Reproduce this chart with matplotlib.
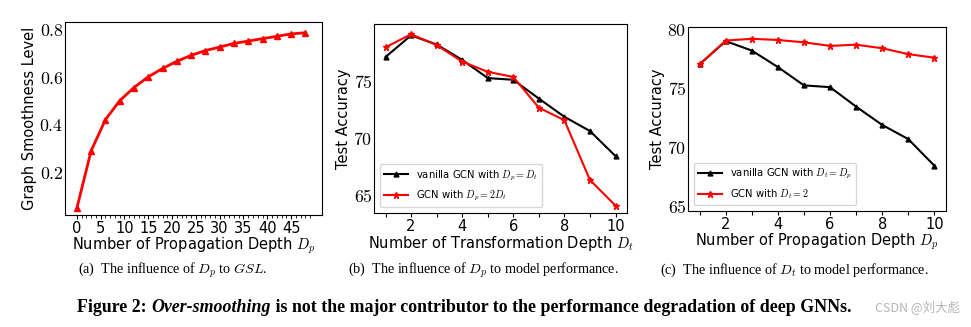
import numpy as np
import matplotlib
matplotlib.use("Agg")
from matplotlib import pyplot as plt

plt.rcParams['mathtext.fontset'] = 'cm'
plt.rcParams['font.family'] = ['DejaVu Sans']

# (a) graph smoothness level vs propagation depth
depth_a = [0, 3, 6, 9, 12, 15, 18, 21, 24, 27, 30, 33, 36, 39, 42, 45, 48]
gsl_a = [0.05, 0.29, 0.42, 0.50, 0.555, 0.60, 0.635, 0.665, 0.69, 0.71,
         0.725, 0.74, 0.75, 0.76, 0.77, 0.78, 0.785]

# (b) accuracy vs transformation depth
depth_b = [1, 2, 3, 4, 5, 6, 7, 8, 9, 10]
vanilla_b = [77.1, 79.0, 78.2, 76.85, 75.25, 75.1, 73.45, 71.85, 70.6, 68.4]
gcn2x_b = [77.95, 79.1, 78.15, 76.7, 75.8, 75.35, 72.65, 71.55, 66.3, 64.05]

# (c) accuracy vs propagation depth
depth_c = [1, 2, 3, 4, 5, 6, 7, 8, 9, 10]
vanilla_c = [77.0, 78.95, 78.15, 76.75, 75.2, 75.05, 73.4, 71.85, 70.65, 68.4]
gcn_dt2_c = [77.0, 79.0, 79.15, 79.05, 78.85, 78.55, 78.65, 78.35, 77.85, 77.55]

yticks_a = [0.2, 0.4, 0.6, 0.8]
xticks_a = [0, 5, 10, 15, 20, 25, 30, 35, 40, 45]
yticks_b = [65, 70, 75]
yticks_c = [65, 70, 75, 80]

captions = [r"(a)  The influence of $D_p$ to $GSL$.",
            r"(b)  The influence of $D_p$ to model performance.",
            r"(c)  The influence of $D_t$ to model performance."]

fig = plt.figure(figsize=(9.71, 3.27), dpi=100)
W, H = 971.0, 327.0


def box(l, r, t, b):
    return [l / W, 1 - b / H, (r - l) / W, (b - t) / H]


def math_labels(vals, fmt):
    return ['$' + fmt.format(v) + '$' for v in vals]


lab_fs = 10.5
tick_fs = 10.5
ytick_fs = 12.8

# ---- (a)
ax = fig.add_axes(box(65, 322, 22, 215))
ax.plot(depth_a, gsl_a, color='red', lw=2, marker='^', ms=5)
ax.set_xlim(-2.5, 51.5)
ax.set_ylim(0.02, 0.83)
ax.set_yticks(yticks_a)
ax.set_yticklabels(math_labels(yticks_a, '{:.1f}'), fontsize=ytick_fs)
ax.set_xticks(xticks_a)
ax.set_xticklabels([str(v) for v in xticks_a], fontsize=tick_fs)
ax.set_xticks(np.arange(0, 50), minor=True)
ax.tick_params(axis='x', which='minor', length=2)
ax.tick_params(axis='x', which='major', length=3, pad=1)
ax.tick_params(axis='y', length=0, pad=1)
ax.set_ylabel('Graph Smoothness Level', fontsize=lab_fs, labelpad=2)
ax.set_xlabel(r'Number of Propagation Depth $D_p$', fontsize=lab_fs, labelpad=0)

# ---- (b) and (c)
panels = [
    (box(374, 627, 24, 213), depth_b, vanilla_b, gcn2x_b, (63.4, 80.0), yticks_b,
     [r'vanilla GCN with $D_p = D_t$', r'GCN with $D_p = 2D_t$'],
     r'Number of Transformation Depth $D_t$'),
    (box(688, 946, 27, 211), depth_c, vanilla_c, gcn_dt2_c, (64.55, 80.15), yticks_c,
     [r'vanilla GCN with $D_t = D_p$', r'GCN with $D_t = 2$'],
     r'Number of Propagation Depth $D_p$'),
]
for rect, xs, black, red, ylim, yt, names, xlabel in panels:
    ax = fig.add_axes(rect)
    ax.plot(xs, black, color='black', lw=1.5, marker='^', ms=3.5, label=names[0])
    ax.plot(xs, red, color='red', lw=1.5, marker='*', ms=5, label=names[1])
    ax.set_xlim(0.55, 10.45)
    ax.set_ylim(*ylim)
    ax.set_yticks(yt)
    ax.set_yticklabels(math_labels(yt, '{}'), fontsize=ytick_fs)
    ax.set_xticks(xs)
    ax.set_xticklabels([str(v) if v % 2 == 0 else '' for v in xs], fontsize=tick_fs)
    ax.tick_params(axis='x', length=3, pad=1)
    ax.tick_params(axis='y', length=0, pad=1)
    ax.set_ylabel('Test Accuracy', fontsize=lab_fs, labelpad=2)
    ax.set_xlabel(xlabel, fontsize=lab_fs, labelpad=0)
    ax.legend(loc='lower left', fontsize=7.2, borderaxespad=0.6, handlelength=2.4,
              labelspacing=0.6)

# captions
serif = ['Liberation Serif', 'DejaVu Serif']
cap_x = [78, 348, 660]
for x, c in zip(cap_x, captions):
    fig.text(x / W, 1 - 270 / H, c, fontsize=10.2, family=serif, va='center')

# figure title, mixed bold / bold italic
fig.canvas.draw()
renderer = fig.canvas.get_renderer()
x = 77 / W
parts = [('Figure 2: ', 'normal'), ('Over-smoothing', 'italic'),
         (' is not the major contributor to the performance degradation of deep GNNs.', 'normal')]
for s, style in parts:
    t = fig.text(x, 1 - 307 / H, s, fontsize=12.9, family=serif, weight='bold',
                 style=style, va='center')
    bb = t.get_window_extent(renderer)
    x += bb.width / fig.bbox.width

fig.text(960 / W, 1 - 308 / H, 'CSDN @刘大彪', fontsize=9, color='#a8a8a8',
         family=['Noto Sans CJK SC', 'DejaVu Sans'], ha='right', va='center', alpha=0.85)

fig.savefig('out.png', dpi=100)
